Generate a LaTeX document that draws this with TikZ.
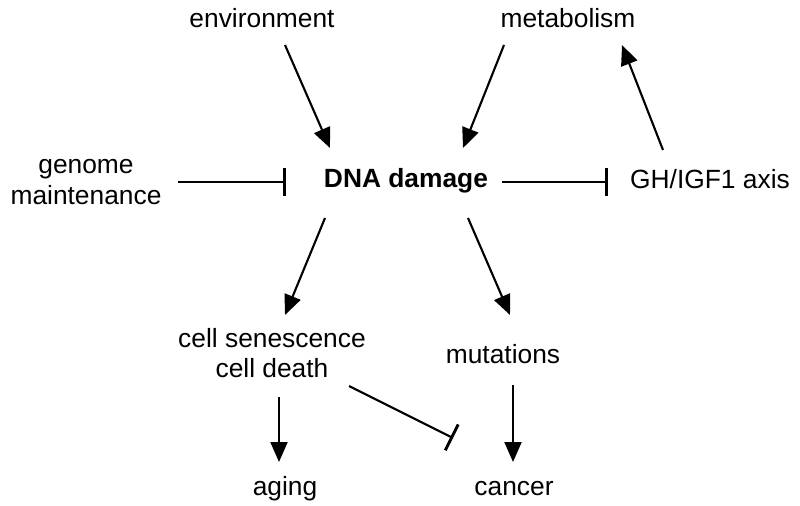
\documentclass[tikz,border=0pt]{standalone}
\usepackage{fontspec}
\setmainfont{Liberation Sans}
\usetikzlibrary{arrows.meta,calc}
\tikzset{
  lbl/.style={anchor=base,font=\fontsize{15}{18.2}\selectfont,align=center,inner sep=0pt},
  act/.style={-{Triangle[length=0.4cm,width=0.34cm]},line width=1.2pt},
  inh/.style={-{Bar[width=0.58cm,line width=1.6pt]},line width=1.2pt}
}
\begin{document}
\begin{tikzpicture}[x=0.02cm,y=-0.02cm]
		\useasboundingbox (0,0) rectangle (800,506);
		% labels
		\node[lbl] (env) at (262,28) {environment};
		\node[lbl] (met) at (568,28) {metabolism};
		\node[lbl] (gm) at (86,205) {genome\\maintenance};
		\node[lbl,font=\fontsize{15}{18.2}\selectfont\bfseries] (dna) at (406,188) {DNA damage};
		\node[lbl] (gh) at (710,189) {GH/IGF1 axis};
		\node[lbl,font=\fontsize{15}{17}\selectfont] (sen) at (272,377) {cell senescence\\cell death};
		\node[lbl] (mut) at (503,363) {mutations};
		\node[lbl] (aging) at (285,495) {aging};
		\node[lbl] (cancer) at (514,495) {cancer};
		% arrows
		\draw[act] ($(env.base)+(23,17)$) -- ($(dna.base)+(-76,-40)$);
		\draw[act] ($(met.base)+(-64,17)$) -- ($(dna.base)+(57,-40)$);
		\draw[act] ($(gh.base)+(-47,-39)$) -- ($(met.base)+(54,17)$);
		\draw[act] ($(dna.base)+(-81,30)$) -- ($(sen.base)+(13,-62)$);
		\draw[act] ($(dna.base)+(62,30)$) -- ($(mut.base)+(7,-48)$);
		\draw[act] ($(sen.base)+(7,20)$) -- ($(aging.base)+(-6,-33)$);
		\draw[act] ($(mut.base)+(10,22)$) -- ($(cancer.base)+(-1,-33)$);
		\draw[inh] ($(gm.base)+(92,-23)$) -- ($(dna.base)+(-120,-6)$);
		\draw[inh] ($(dna.base)+(96,-6)$) -- ($(gh.base)+(-102,-7)$);
		\draw[inh] ($(sen.base)+(77,9)$) -- ($(cancer.base)+(-61,-57)$);
	\end{tikzpicture}
\end{document}
